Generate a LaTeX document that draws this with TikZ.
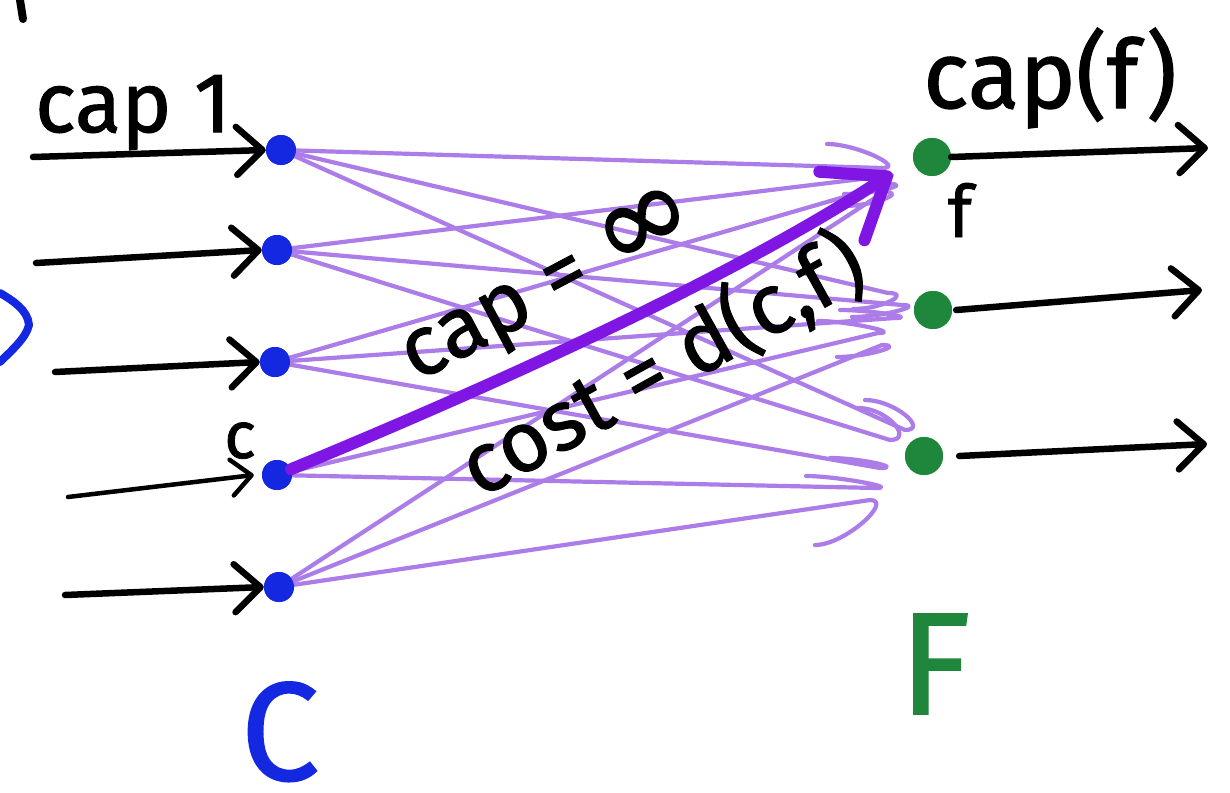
\documentclass[tikz,border=0pt]{standalone}
\usepackage{fontspec}
\setmainfont{Fira Sans}[FakeBold=1.2]
\newfontfamily\symfont{DejaVu Sans}[FakeBold=1.2]
\usetikzlibrary{arrows.meta}
\definecolor{cblue}{RGB}{20,40,225}
\definecolor{fgreen}{RGB}{30,135,60}
\definecolor{lpurple}{RGB}{172,124,232}
\definecolor{dpurple}{RGB}{128,22,228}
\tikzset{
  inarrow/.style={line width=6.5pt, line cap=round, -{Straight Barb[length=26pt,width=48pt,round]}},
  thinarrow/.style={line width=4.5pt, line cap=round, -{Straight Barb[length=20pt,width=36pt,round]}},
  edge/.style={draw=lpurple, line width=4.2pt, line cap=round, line join=round},
  bigedge/.style={draw=dpurple, line width=12pt, line cap=round, -{Straight Barb[length=54pt,width=82pt,round]}},
  lbl/.style={anchor=base, inner sep=0pt, font=\fontsize{85}{95}\selectfont},
  cdot/.style={circle, fill=cblue, minimum size=30pt, inner sep=0pt},
  fdot/.style={circle, fill=fgreen, minimum size=38pt, inner sep=0pt},
}
\begin{document}
\begin{tikzpicture}[x=1pt,y=-1pt]
\useasboundingbox (0,0) rectangle (1230,792);
\fill[white] (0,0) rectangle (1230,792);

% partial strokes at the left edge
\draw[line width=8pt, line cap=round] (20,0) -- (23,19);
\draw[cblue, line width=8pt, line cap=round, line join=round] (0,293) .. controls (12,300) and (28,310) .. (29,325) .. controls (26,338) and (12,350) .. (0,362);

% nodes
\node[cdot] (c1) at (281,150) {};
\node[cdot] (c2) at (277,250) {};
\node[cdot] (c3) at (275,362) {};
\node[cdot] (c4) at (277,475) {};
\node[cdot] (c5) at (279,587) {};
\node[fdot] (f1) at (932,157) {};
\node[fdot] (f2) at (933,310) {};
\node[fdot] (f3) at (924,456) {};

% light purple edges C -> F
\foreach \i/\j/\xe/\ye/\hx/\hy in {
  1/1/882/168/-55/-24, 2/1/886/176/-62/-8, 3/1/889/184/-45/10, 5/1/884/192/-40/14,
  1/2/888/293/-35/16, 2/2/902/305/-50/12, 3/2/895/318/-55/-8, 4/2/878/333/-60/-12, 5/2/882/345/-45/12,
  1/3/905/430/-40/-30, 2/3/890/440/-32/-32, 3/3/880/468/-50/-10, 4/3/876/488/-70/-12, 5/3/870/500/-55/45}{
  \coordinate (e\i\j) at (\xe,\ye);
  \draw[edge] (c\i) -- (e\i\j) .. controls +(24,0) and +(30,0) .. ++(\hx,\hy);
}
% dots on top of the edges
\foreach \n in {c1,c2,c3,c4,c5} \fill[cblue] (\n) circle (15);
\foreach \n in {f1,f2,f3} \fill[fgreen] (\n) circle (19);

% thick purple arrow c -> f
\coordinate (ftip) at (892,173);
\draw[bigedge] (c4) .. controls (466,397) and (725,283) .. (ftip);

% incoming arrows
\coordinate (a1) at (33,157);
\coordinate (a2) at (36,263);
\coordinate (a3) at (55,372);
\coordinate (a4) at (68,497);
\coordinate (a5) at (65,595);
\draw[inarrow] (a1) -- (c1.west);
\draw[inarrow] (a2) -- (c2.west);
\draw[inarrow] (a3) -- (c3.west);
\draw[thinarrow] (a4) -- ([xshift=-8pt]c4.west);
\draw[inarrow] (a5) -- (c5.west);

% outgoing arrows
\coordinate (o1) at (1208,148);
\coordinate (o2) at (1202,290);
\coordinate (o3) at (1207,444);
\draw[inarrow] (f1.east) -- (o1);
\draw[inarrow] ([xshift=4pt]f2.east) -- (o2);
\draw[inarrow] ([xshift=16pt]f3.east) -- (o3);

% labels
\node[lbl] (tcap1) at (133,132) {cap 1};
\node[lbl, font=\fontsize{95}{105}\selectfont] (tcapf) at (1050,108) {cap(f)};
\node[lbl, font=\fontsize{72}{80}\selectfont] (tf) at (960,237) {f};
\node[lbl, font=\fontsize{66}{72}\selectfont] (tc) at (240,458) {c};
\node[lbl, rotate=28] (tinf) at (560,306) {cap = {\symfont\fontsize{120}{120}\selectfont ∞}};
\node[lbl, rotate=29] (tcost) at (676,390) {cost = d(c,f)};
\node[lbl, text=cblue, font=\fontsize{140}{150}\selectfont] (tC) at (280,780) {C};
\node[lbl, text=fgreen, font=\fontsize{145}{155}\selectfont] (tF) at (935,714) {F};
\end{tikzpicture}
\end{document}
